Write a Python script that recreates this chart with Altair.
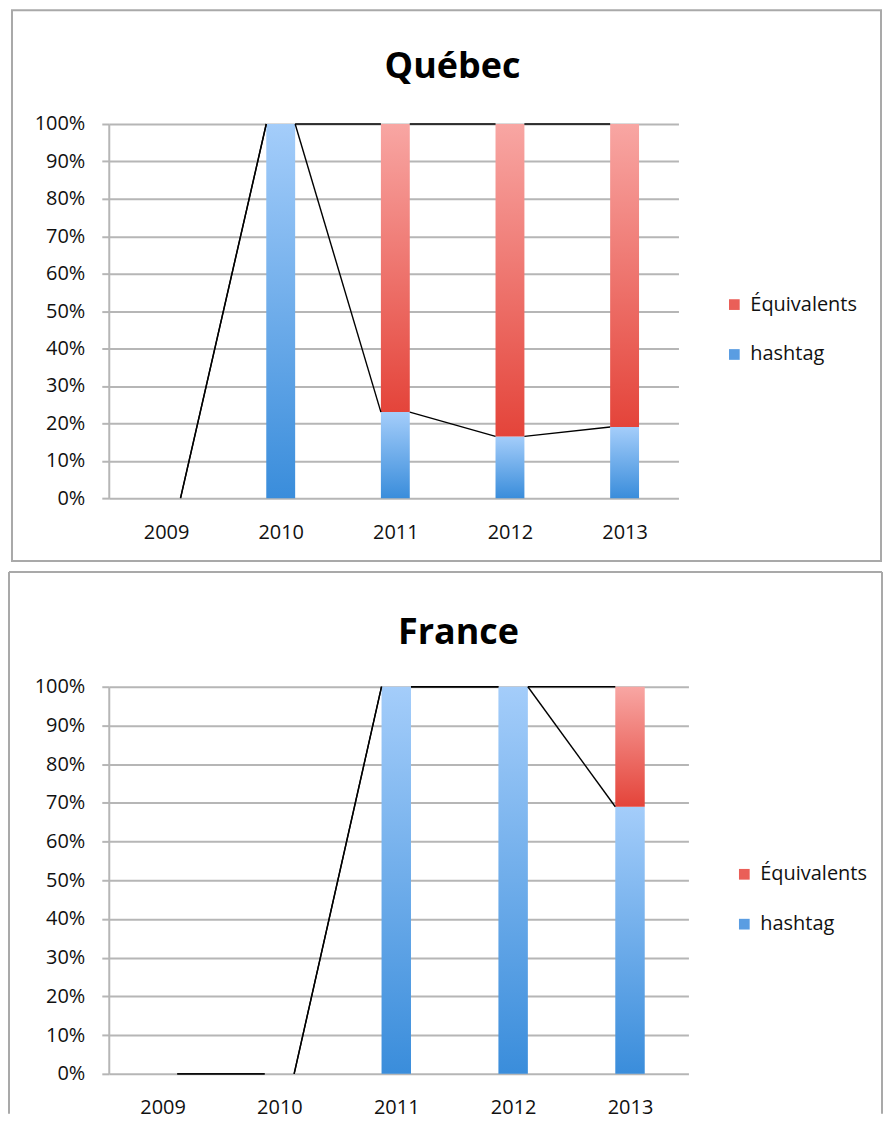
import json
import altair as alt
import pandas as pd

# ---------------- data ----------------
years = ["2009", "2010", "2011", "2012", "2013"]
quebec_hashtag = [0, 100, 23, 16.5, 19]
quebec_equivalents = [0, 0, 77, 83.5, 81]
france_hashtag = [0, 0, 100, 100, 69]
france_equivalents = [0, 0, 0, 0, 31]
series_names = ["Équivalents", "hashtag"]
percent_ticks = list(range(0, 101, 10))

# ---------------- styling ----------------
FONT = "Open Sans"
TEXT = "#111111"
GRID = "#b6b6b6"
FRAME = "#a9a9a9"
HALF_BAR = 0.126  # half bar width, in category units


def grad(top, bottom):
    return alt.Gradient(
        gradient="linear", x1=0, y1=0, x2=0, y2=1,
        stops=[alt.GradientStop(offset=0, color=top),
               alt.GradientStop(offset=1, color=bottom)],
    )


BLUE = grad("#a4cdfa", "#3a8ddb")
RED = grad("#f8a6a3", "#e4443a")


def tables(hashtag, equiv):
    n = len(years)
    bars = pd.DataFrame({"idx": list(range(n)), "year": years,
                         "hashtag": hashtag, "equiv": equiv})
    bars["top"] = bars["hashtag"] + bars["equiv"]
    segs = []
    for i in range(n - 1):
        for name, col in (("hashtag", "hashtag"), ("Équivalents", "top")):
            segs.append({"series": name, "i0": i, "i1": i + 1,
                         "y0": float(bars[col][i]), "y1": float(bars[col][i + 1])})
    return bars, pd.DataFrame(segs)


def frame_layers(left, right, top, bottom, closed):
    one = alt.Chart(pd.DataFrame({"f": [0]}))
    if closed:
        return [one.mark_rect(fillOpacity=0, stroke=FRAME, strokeWidth=2).encode(
            x=alt.value(left), x2=alt.value(right), y=alt.value(top), y2=alt.value(bottom))]
    rule = dict(color=FRAME, strokeWidth=2)
    return [
        one.mark_rule(**rule).encode(x=alt.value(left), y=alt.value(top), y2=alt.value(bottom)),
        one.mark_rule(**rule).encode(x=alt.value(right), y=alt.value(top), y2=alt.value(bottom)),
        one.mark_rule(**rule).encode(x=alt.value(left), x2=alt.value(right), y=alt.value(top)),
    ]


def panel(title, hashtag, equiv, width, height, xdomain, title_offset, title_dx,
          legend_x, legend_y, frame):
    bars, segs = tables(hashtag, equiv)
    xscale = alt.Scale(domain=xdomain, nice=False, zero=False)
    yscale = alt.Scale(domain=[0, 100], nice=False, zero=True)
    xaxis = alt.Axis(values=list(range(len(years))),
                     labelExpr=json.dumps(years) + "[datum.value]",
                     grid=False, domain=False, ticks=False,
                     labelFont=FONT, labelFontSize=20, labelColor=TEXT,
                     labelPadding=24, labelFlush=False, labelOverlap=False, title=None)
    yaxis = alt.Axis(values=percent_ticks, labelExpr="datum.value + '%'",
                     grid=True, gridColor=GRID, gridWidth=2,
                     domain=True, domainColor=GRID, domainWidth=2,
                     ticks=True, tickColor=GRID, tickWidth=2, tickSize=7,
                     labelFont=FONT, labelFontSize=20, labelColor=TEXT,
                     labelPadding=17, title=None)

    base = alt.Chart(bars).transform_calculate(
        xl=f"datum.idx - {HALF_BAR}", xr=f"datum.idx + {HALF_BAR}", zero="0")

    blue = base.transform_filter("datum.hashtag > 0").mark_bar(color=BLUE).encode(
        x=alt.X("xl:Q", scale=xscale, axis=xaxis), x2="xr:Q",
        y=alt.Y("hashtag:Q", scale=yscale, axis=yaxis), y2="zero:Q")

    red = base.transform_filter("datum.equiv > 0").mark_bar(color=RED).encode(
        x=alt.X("xl:Q", scale=xscale, axis=xaxis), x2="xr:Q",
        y=alt.Y("top:Q", scale=yscale, axis=yaxis), y2="hashtag:Q")

    lines = alt.Chart(segs).transform_calculate(
        xa=f"datum.i0 + {HALF_BAR}", xb=f"datum.i1 - {HALF_BAR}"
    ).mark_rule(color="black", strokeWidth=1.4).encode(
        x=alt.X("xa:Q", scale=xscale, axis=xaxis), x2="xb:Q",
        y=alt.Y("y0:Q", scale=yscale, axis=yaxis), y2="y1:Q")

    legend = alt.Chart(pd.DataFrame({"series": series_names})).mark_square(opacity=0).encode(
        x=alt.value(0), y=alt.value(0),
        color=alt.Color("series:N",
                        scale=alt.Scale(domain=series_names, range=["#ea5f58", "#5a9de2"]),
                        legend=alt.Legend(orient="none", legendX=legend_x, legendY=legend_y,
                                          title=None, direction="vertical",
                                          symbolType="square", symbolSize=115,
                                          symbolStrokeWidth=0, symbolOpacity=1,
                                          labelFont=FONT, labelFontSize=20, labelColor=TEXT,
                                          labelOffset=6, rowPadding=30, padding=0)))

    layers = frame + [blue, red, lines, legend]
    return alt.layer(*layers).properties(
        width=width, height=height,
        title=alt.TitleParams(text=title, font=FONT, fontSize=36, fontWeight="bold",
                              color="black", anchor="middle", offset=title_offset,
                              dx=title_dx))


quebec = panel("Québec", quebec_hashtag, quebec_equivalents,
               width=571, height=375, xdomain=[-0.5, 4.47],
               title_offset=-77, title_dx=59, legend_x=617, legend_y=171,
               frame=frame_layers(-97, 774, -114, 438, True))

france = panel("France", france_hashtag, france_equivalents,
               width=581, height=388, xdomain=[-0.46, 4.50],
               title_offset=-81, title_dx=60, legend_x=627, legend_y=178,
               frame=frame_layers(-100, 775, -115, 428, False))

chart = alt.vconcat(quebec, france, spacing=9).resolve_scale(
    x="independent", y="independent", color="independent"
).resolve_legend(color="independent").properties(
    padding=0, background="white"
).configure_view(strokeWidth=0)

chart.save("out.html", embed_options={"renderer": "svg", "actions": False})
